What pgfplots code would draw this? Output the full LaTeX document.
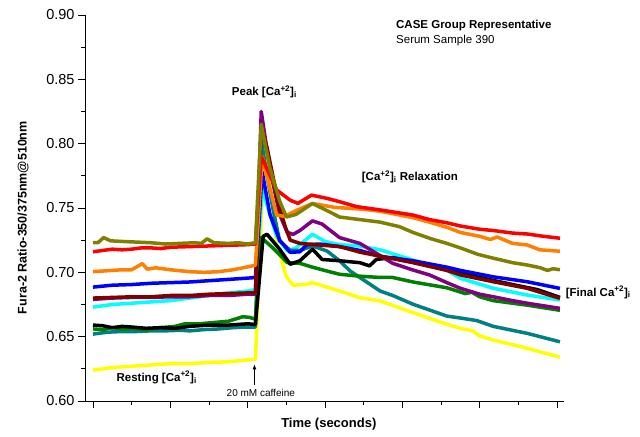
\documentclass[border=0pt]{standalone}
\usepackage{fontspec}
\setmainfont{Liberation Sans}
\usepackage{pgfplots}
\pgfplotsset{compat=1.18}
\usetikzlibrary{arrows.meta}

\definecolor{cOlive}{RGB}{128,128,0}
\definecolor{cRed}{RGB}{255,0,0}
\definecolor{cOrange}{RGB}{255,128,0}
\definecolor{cBlue}{RGB}{0,0,255}
\definecolor{cPurple}{RGB}{128,0,128}
\definecolor{cMaroon}{RGB}{128,0,0}
\definecolor{cCyan}{RGB}{0,255,255}
\definecolor{cGreen}{RGB}{0,128,0}
\definecolor{cTeal}{RGB}{0,128,128}
\definecolor{cYellow}{RGB}{255,255,0}

\newcommand{\ca}{[Ca\textsuperscript{+2}]\textsubscript{i}}

\begin{document}
\begin{tikzpicture}
\begin{axis}[
  scale only axis, width=479bp, height=386bp,
  xmin=-8.3, xmax=487.2, ymin=0.60, ymax=0.90,
  axis x line*=bottom, axis y line*=left,
  axis line style={line width=0.9bp},
  xtick={0,80,...,480}, minor xtick={40,120,...,440}, xticklabels={},
  ytick={0.60,0.65,...,0.91}, minor ytick={0.625,0.675,...,0.88},
  tick align=outside, major tick length=7bp, minor tick length=4bp,
  tick style={line width=0.9bp, black},
  /pgf/number format/assume math mode=true,
  yticklabel style={font=\fontsize{14.5bp}{16bp}\selectfont,
    /pgf/number format/.cd, fixed, fixed zerofill, precision=2},
  ylabel={\bfseries Fura-2 Ratio-350/375nm@510nm},
  ylabel style={font=\fontsize{12.5bp}{14bp}\selectfont, at={(axis description cs:-0.129,0.475)}, anchor=center},
  xlabel={\bfseries Time (seconds)},
  xlabel style={font=\fontsize{13bp}{15bp}\selectfont, at={(axis description cs:0.509,-0.0596)}, anchor=center},
  clip=false,
  every axis plot/.append style={line width=3.5bp, line join=round, mark=none},
]
\coordinate (bl) at (rel axis cs:0,0);
\coordinate (tr) at (rel axis cs:1,1);

\addplot[cYellow] coordinates {
(0,0.624) (20,0.626) (40,0.627) (60,0.628) (80,0.629) (100,0.629) (120,0.630) (140,0.6305) (160,0.632) (168,0.6325)
(177,0.795) (183,0.775) (190,0.7226) (200,0.6966) (207,0.690) (221,0.6907) (227,0.692) (255,0.6855) (276,0.6803)
(297,0.6778) (331,0.6687) (366,0.6596) (380,0.6565) (393,0.6545) (400,0.6505) (414,0.6474) (449,0.641) (483,0.634)};

\addplot[cCyan] coordinates {
(0,0.673) (20,0.675) (40,0.676) (60,0.677) (80,0.678) (100,0.680) (120,0.682) (140,0.684) (160,0.6855) (168,0.6865)
(175,0.765) (183,0.745) (190,0.728) (201,0.7166) (210,0.719) (227,0.7296) (240,0.724) (255,0.7215) (276,0.7205)
(297,0.7175) (331,0.7095) (366,0.7015) (380,0.6954) (414,0.6876) (449,0.6824) (483,0.6785)};

\addplot[cTeal] coordinates {
(0,0.652) (15,0.6535) (30,0.654) (45,0.654) (60,0.6545) (75,0.6545) (90,0.655) (100,0.6545) (115,0.6555) (130,0.656)
(145,0.657) (160,0.6575) (168,0.6575) (174,0.803) (180,0.775) (186,0.750) (193,0.7244) (204,0.717) (214,0.717)
(227,0.7205) (242,0.7166) (255,0.709) (266,0.701) (276,0.696) (297,0.6855) (310,0.682) (331,0.6752) (366,0.666)
(380,0.6645) (397,0.6625) (414,0.658) (449,0.6526) (483,0.646)};

\addplot[cGreen] coordinates {
(0,0.656) (10,0.6555) (20,0.657) (30,0.656) (40,0.6565) (55,0.6555) (70,0.657) (85,0.658) (95,0.660) (110,0.660)
(125,0.661) (140,0.662) (155,0.6655) (162,0.665) (168,0.6635) (174,0.727) (186,0.719) (201,0.7075) (214,0.707)
(227,0.704) (242,0.701) (255,0.6985) (276,0.697) (297,0.696) (310,0.696) (331,0.6925) (366,0.688) (385,0.6835)
(392,0.6845) (400,0.681) (414,0.678) (449,0.6745) (483,0.6705)};

\addplot[black] coordinates {
(0,0.659) (10,0.6585) (20,0.657) (30,0.658) (40,0.6575) (55,0.6565) (70,0.657) (85,0.6565) (100,0.658) (120,0.659)
(140,0.659) (160,0.660) (168,0.6595) (176,0.728) (180,0.7296) (193,0.718) (204,0.7063) (214,0.709) (227,0.718)
(237,0.710) (255,0.709) (276,0.7075) (286,0.705) (293,0.710) (310,0.7115) (331,0.708) (366,0.702) (400,0.696)
(434,0.6905) (460,0.6865) (483,0.6805)};

\addplot[cBlue] coordinates {
(0,0.6885) (20,0.690) (40,0.6905) (60,0.6915) (80,0.692) (100,0.6925) (120,0.6935) (140,0.6945) (160,0.6955) (168,0.696)
(175,0.778) (183,0.745) (193,0.725) (204,0.7155) (214,0.716) (221,0.7215) (235,0.722) (255,0.720) (276,0.717)
(297,0.7125) (331,0.709) (366,0.704) (380,0.7015) (414,0.6965) (449,0.6927) (483,0.6875)};

\addplot[cPurple] coordinates {
(0,0.679) (20,0.680) (40,0.6805) (60,0.6805) (80,0.681) (100,0.681) (120,0.682) (140,0.682) (160,0.683) (168,0.683)
(174,0.825) (180,0.795) (186,0.770) (193,0.745) (201,0.731) (207,0.7295) (214,0.7325) (227,0.740) (237,0.7375)
(255,0.727) (276,0.7225) (297,0.713) (310,0.707) (331,0.7018) (348,0.698) (366,0.692) (380,0.6876) (400,0.683)
(414,0.681) (434,0.678) (449,0.676) (483,0.672)};

\addplot[cMaroon] coordinates {
(0,0.680) (20,0.6805) (40,0.681) (60,0.681) (80,0.682) (100,0.682) (120,0.683) (140,0.6835) (160,0.684) (168,0.684)
(174,0.812) (180,0.797) (186,0.775) (193,0.750) (199,0.735) (204,0.725) (214,0.7225) (230,0.7215) (255,0.720)
(276,0.7157) (297,0.7125) (331,0.7075) (366,0.7015) (380,0.698) (414,0.6927) (449,0.6876) (483,0.6798)};

\addplot[cOrange] coordinates {
(0,0.7006) (10,0.701) (20,0.7015) (30,0.702) (40,0.702) (51,0.7068) (56,0.7025) (65,0.7035) (80,0.702) (100,0.7005)
(115,0.700) (130,0.7005) (145,0.702) (155,0.7035) (168,0.7055) (175,0.790) (183,0.765) (190,0.7445) (198,0.7435)
(210,0.748) (227,0.7535) (250,0.7505) (280,0.749) (297,0.7475) (314,0.745) (331,0.7425) (348,0.739) (366,0.735)
(380,0.731) (400,0.728) (411,0.7255) (418,0.7275) (434,0.7225) (449,0.7213) (462,0.7175) (483,0.7164)};

\addplot[cRed] coordinates {
(0,0.716) (10,0.717) (20,0.718) (30,0.7175) (40,0.718) (50,0.719) (60,0.719) (70,0.7185) (80,0.7195) (100,0.720)
(120,0.7205) (140,0.721) (160,0.7215) (168,0.722) (174,0.790) (190,0.764) (204,0.756) (212,0.7536) (226,0.760)
(242,0.7575) (255,0.7549) (273,0.751) (297,0.7485) (314,0.7465) (331,0.7445) (348,0.741) (366,0.7385) (380,0.736)
(400,0.7335) (414,0.7325) (434,0.7305) (449,0.7298) (466,0.728) (483,0.7265)};

\addplot[cOlive] coordinates {
(0,0.723) (5,0.723) (11,0.727) (18,0.7245) (30,0.724) (45,0.7235) (60,0.723) (75,0.722) (90,0.7225) (105,0.723)
(112,0.7225) (118,0.726) (125,0.723) (140,0.7225) (150,0.723) (160,0.722) (168,0.723) (174,0.815) (183,0.781)
(193,0.7555) (200,0.743) (210,0.745) (227,0.7535) (242,0.748) (255,0.743) (276,0.741) (297,0.739) (317,0.7355)
(331,0.731) (350,0.726) (366,0.7225) (380,0.719) (398,0.714) (414,0.711) (434,0.7075) (449,0.7057) (462,0.7037)
(470,0.7015) (476,0.7028) (483,0.702)};

\node[anchor=west, inner sep=0, font=\fontsize{11.5bp}{13bp}\selectfont\bfseries] at (axis cs:313.4,0.8922) {CASE Group Representative};
\node[anchor=west, inner sep=0, font=\fontsize{11.5bp}{13bp}\selectfont] at (axis cs:313.4,0.8800) {Serum Sample 390};
\node[anchor=west, inner sep=0, font=\fontsize{11.5bp}{13bp}\selectfont\bfseries] at (axis cs:143.5,0.8404) {Peak \ca};
\node[anchor=west, inner sep=0, font=\fontsize{11.5bp}{13bp}\selectfont\bfseries] at (axis cs:277.9,0.7743) {\ca{} Relaxation};
\node[anchor=west, inner sep=0, font=\fontsize{11.5bp}{13bp}\selectfont\bfseries] at (axis cs:488.9,0.6845) {[Final Ca\textsuperscript{+2}]\textsubscript{i}};
\node[anchor=west, inner sep=0, font=\fontsize{11.5bp}{13bp}\selectfont\bfseries] at (axis cs:24.2,0.6183) {Resting \ca};
\node[anchor=west, inner sep=0, font=\fontsize{10bp}{12bp}\selectfont] at (axis cs:138.1,0.6065) {20 mM caffeine};
\draw[-{Latex[length=5bp,width=4bp]}, line width=0.8bp] (axis cs:167,0.6124) -- (axis cs:167,0.6285);
\end{axis}
\pgfresetboundingbox
\path[use as bounding box] ([shift={(-85bp,-36bp)}]bl) rectangle ([shift={(76bp,15bp)}]tr);
\end{tikzpicture}
\end{document}
